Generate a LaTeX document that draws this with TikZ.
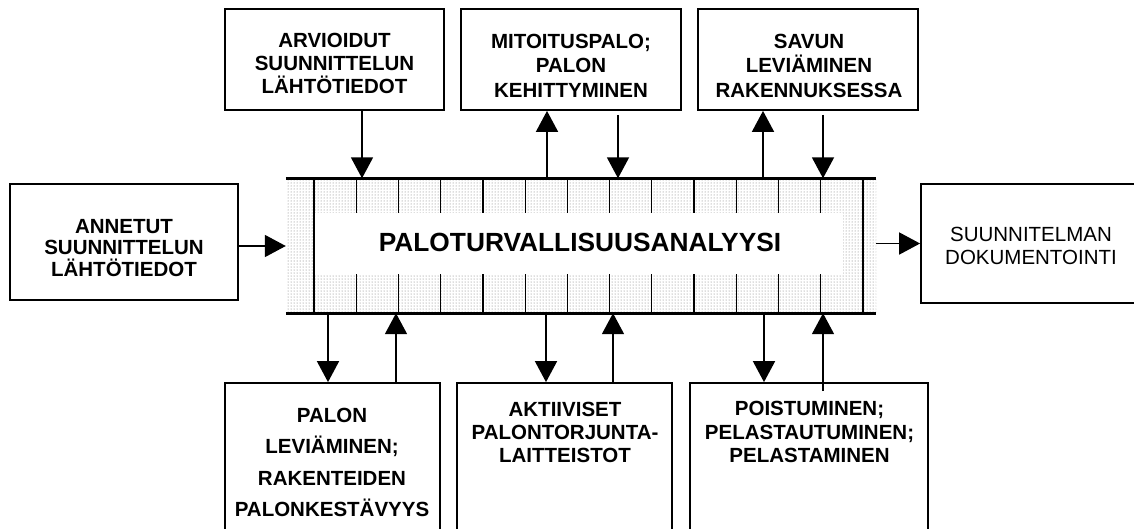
\documentclass[tikz,border=0pt]{standalone}
\usepackage{fontspec}
\setmainfont{Liberation Sans}
\usetikzlibrary{arrows.meta,patterns}

\tikzset{
  box/.style={draw, line width=1.8pt, fill=white, inner sep=0pt},
  lbl/.style={align=center, inner sep=0pt, font=\bfseries\fontsize{20.5}{23}\selectfont},
  arr/.style={line width=1.8pt, -{Triangle[length=21pt,width=22pt]}},
  rail/.style={line width=2.8pt},
  tick/.style={line width=1.2pt},
}

\begin{document}
\begin{tikzpicture}[x=1pt,y=-1pt]
\useasboundingbox (0,0) rectangle (1134,528);
\clip (0,0) rectangle (1134,528);

% central activity band
\node[minimum width=590pt, minimum height=134.5pt, inner sep=0pt] (band) at (581,245.75) {};
\fill[white] (band.north west) rectangle (band.south east);
\fill[pattern=dots, pattern color=black!55] (band.north west) rectangle (band.south east);
\foreach \i in {1,...,12} {
  \draw[tick] ({314+\i*42.23},178.5) -- ({314+\i*42.23},213);
  \draw[tick] ({314+\i*42.23},274) -- ({314+\i*42.23},313);
}
\draw[tick] (314,178.5) -- (314,313);
\draw[tick] (863,178.5) -- (863,313);
\node[fill=white, minimum width=528pt, minimum height=61pt, inner sep=0pt] (core) at (579,243.5) {};
\node[lbl, font=\bfseries\fontsize{26.3}{28}\selectfont] (title) at (580,242) {PALOTURVALLISUUSANALYYSI};
\draw[rail] (band.north west) -- (band.north east);
\draw[rail] (band.south west) -- (band.south east);

% input and output boxes
\node[box, minimum width=228pt, minimum height=116pt] (left) at (124,242) {};
\node[lbl, font=\bfseries\fontsize{20.5}{21.5}\selectfont] (leftT) at (124,248) {ANNETUT\\SUUNNITTELUN\\LÄHTÖTIEDOT};

\node[box, minimum width=240pt, minimum height=119pt] (right) at (1041,243.5) {};
\node[lbl, font=\fontsize{20.5}{23}\selectfont] (rightT) at (1031,245.5) {SUUNNITELMAN\\DOKUMENTOINTI};

% boxes above the band
\node[box, minimum width=219pt, minimum height=101pt] (t1) at (334.5,59.5) {};
\node[lbl] (t1T) at (334.5,63.5) {ARVIOIDUT\\SUUNNITTELUN\\LÄHTÖTIEDOT};

\node[box, minimum width=220pt, minimum height=101pt] (t2) at (571,59.5) {};
\node[lbl, font=\bfseries\fontsize{20.5}{24.5}\selectfont] (t2T) at (571,65.5) {MITOITUSPALO;\\PALON\\KEHITTYMINEN};

\node[box, minimum width=220pt, minimum height=101pt] (t3) at (808,59.5) {};
\node[lbl, font=\bfseries\fontsize{20.5}{24.5}\selectfont] (t3T) at (809,65.5) {SAVUN\\LEVIÄMINEN\\RAKENNUKSESSA};

% boxes below the band
\node[box, minimum width=215pt, minimum height=180pt] (b1) at (332.5,473) {};
\node[lbl, font=\bfseries\fontsize{20.5}{31.5}\selectfont] (b1T) at (332,462.5) {PALON\\LEVIÄMINEN;\\RAKENTEIDEN\\PALONKESTÄVYYS};

\node[box, minimum width=215pt, minimum height=180pt] (b2) at (564.5,473) {};
\node[lbl] (b2T) at (565,432.5) {AKTIIVISET\\PALONTORJUNTA-\\LAITTEISTOT};

\node[box, minimum width=238pt, minimum height=180pt] (b3) at (809,473) {};
\node[lbl, font=\bfseries\fontsize{20.5}{23.5}\selectfont] (b3T) at (809.5,432) {POISTUMINEN;\\PELASTAUTUMINEN;\\PELASTAMINEN};

% connectors
\draw[arr] ([yshift=-4pt]left.east) -- ([yshift=-4pt]left.east -| band.west);
\draw[arr] (band.east |- right.west) -- (right.west);

\draw[arr] ([xshift=27.5pt]t1.south) -- ([xshift=27.5pt]t1.south |- band.north);

\draw[arr] ([xshift=-24pt]t2.south |- band.north) -- ([xshift=-24pt]t2.south);
\draw[arr] ([xshift=47pt,yshift=-4pt]t2.south) -- ([xshift=47pt]t2.south |- band.north);

\draw[arr] ([xshift=-45pt]t3.south |- band.north) -- ([xshift=-45pt]t3.south);
\draw[arr] ([xshift=15pt,yshift=-4pt]t3.south) -- ([xshift=15pt]t3.south |- band.north);

\draw[arr] ([xshift=-4.5pt]b1.north |- band.south) -- ([xshift=-4.5pt]b1.north);
\draw[arr] ([xshift=63.5pt]b1.north) -- ([xshift=63.5pt]b1.north |- band.south);

\draw[arr] ([xshift=-18.5pt]b2.north |- band.south) -- ([xshift=-18.5pt]b2.north);
\draw[arr] ([xshift=48.5pt]b2.north) -- ([xshift=48.5pt]b2.north |- band.south);

\draw[arr] ([xshift=-45pt]b3.north |- band.south) -- ([xshift=-45pt]b3.north);
\draw[arr] ([xshift=14pt,yshift=-9pt]b3.north) -- ([xshift=14pt]b3.north |- band.south);
\end{tikzpicture}
\end{document}
